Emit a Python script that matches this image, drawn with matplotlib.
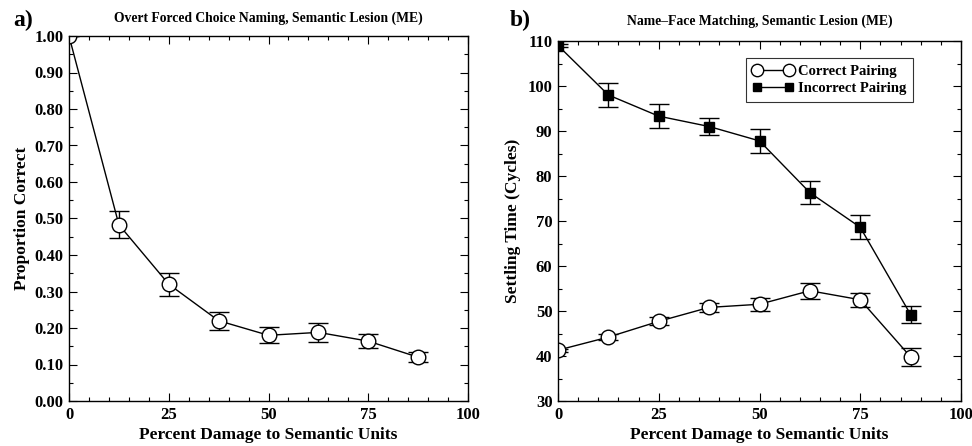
import matplotlib
matplotlib.use("Agg")
import matplotlib.pyplot as plt
from matplotlib.ticker import MultipleLocator, FormatStrFormatter

damage = [0, 12.5, 25, 37.5, 50, 62.5, 75, 87.5]
naming_prop = [1.00, 0.483, 0.320, 0.220, 0.180, 0.188, 0.164, 0.120]
naming_err = [0.0, 0.037, 0.031, 0.025, 0.022, 0.025, 0.019, 0.014]

correct_time = [41.3, 44.2, 47.7, 50.8, 51.5, 54.5, 52.5, 39.8]
correct_err = [0.3, 0.7, 0.9, 1.0, 1.5, 1.8, 1.5, 2.0]
incorrect_time = [109.0, 98.0, 93.3, 91.0, 87.8, 76.3, 68.6, 49.2]
incorrect_err = [0.3, 2.6, 2.7, 1.8, 2.6, 2.6, 2.7, 1.9]

plt.rcParams['font.family'] = ['Liberation Serif', 'DejaVu Serif']
plt.rcParams['font.weight'] = 'bold'

fig = plt.figure(figsize=(9.72, 4.46), dpi=100)
W, H = 972, 446
ax1 = fig.add_axes([69 / W, 1 - 401 / H, (468 - 69) / W, (401 - 36) / H])
ax2 = fig.add_axes([558 / W, 1 - 401 / H, (961 - 558) / W, (401 - 41) / H])

ekw = dict(color='black', lw=1.0, capsize=7, capthick=1.0, elinewidth=1.0)

ax1.errorbar(damage, naming_prop, yerr=naming_err, marker='o', ms=10.5,
             mfc='white', mec='black', mew=1.0, **ekw)
ax1.set_xlim(0, 100)
ax1.set_ylim(0, 1.0)
ax1.xaxis.set_major_locator(MultipleLocator(25))
ax1.xaxis.set_minor_locator(MultipleLocator(5))
ax1.yaxis.set_major_locator(MultipleLocator(0.1))
ax1.yaxis.set_minor_locator(MultipleLocator(0.05))
ax1.yaxis.set_major_formatter(FormatStrFormatter('%.2f'))
ax1.set_xlabel('Percent Damage to Semantic Units', fontsize=12.5, fontweight='bold', labelpad=3)
ax1.set_ylabel('Proportion Correct', fontsize=12.5, fontweight='bold', labelpad=3)
ax1.set_title('Overt Forced Choice Naming, Semantic Lesion (ME)', fontsize=9.8,
              fontweight='bold', pad=10)
fig.text(13 / W, 1 - 20 / H, 'a)', fontsize=17, fontweight='bold', va='center')

ax2.errorbar(damage, correct_time, yerr=correct_err, marker='o', ms=10.5,
             mfc='white', mec='black', mew=1.0, label='Correct Pairing', **ekw)
ax2.errorbar(damage, incorrect_time, yerr=incorrect_err, marker='s', ms=7.5,
             mfc='black', mec='black', label='Incorrect Pairing', **ekw)
ax2.set_xlim(0, 100)
ax2.set_ylim(30, 110)
ax2.xaxis.set_major_locator(MultipleLocator(25))
ax2.xaxis.set_minor_locator(MultipleLocator(5))
ax2.yaxis.set_major_locator(MultipleLocator(10))
ax2.yaxis.set_minor_locator(MultipleLocator(5))
ax2.set_xlabel('Percent Damage to Semantic Units', fontsize=12.5, fontweight='bold', labelpad=3)
ax2.set_ylabel('Settling Time (Cycles)', fontsize=12.5, fontweight='bold', labelpad=5)
ax2.set_title('Name\u2013Face Matching, Semantic Lesion (ME)', fontsize=9.8,
              fontweight='bold', pad=12)
fig.text(510 / W, 1 - 20 / H, 'b)', fontsize=17, fontweight='bold', va='center')

handles, labels = ax2.get_legend_handles_labels()
hl = [h[0] for h in handles]
leg = ax2.legend(hl, labels, loc='upper right', bbox_to_anchor=(0.881, 0.953),
                 numpoints=2, handlelength=2.8, handletextpad=0.35,
                 prop={'family': 'Liberation Serif', 'weight': 'bold', 'size': 10.5},
                 frameon=True, fancybox=False, edgecolor='black', borderpad=0.45,
                 labelspacing=0.3, borderaxespad=0.0, markerscale=0.85)
leg.get_frame().set_linewidth(0.8)

for ax in (ax1, ax2):
    ax.tick_params(which='both', direction='in', top=True, right=True,
                   labelsize=12, pad=4)
    ax.tick_params(which='major', length=6, width=0.8)
    ax.tick_params(which='minor', length=3, width=0.8)
    for lab in ax.get_xticklabels() + ax.get_yticklabels():
        lab.set_fontweight('bold')
    for s in ax.spines.values():
        s.set_linewidth(1.0)

fig.savefig('out.png', dpi=100)
